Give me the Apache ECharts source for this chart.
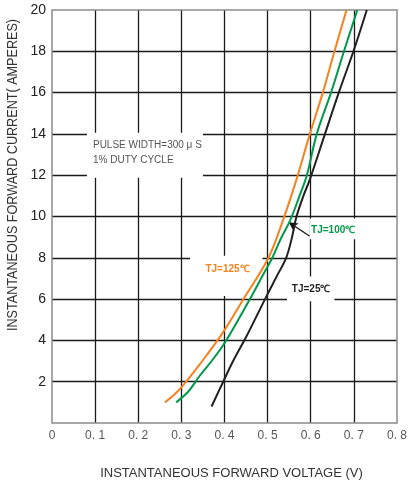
<!DOCTYPE html>
<html><head><meta charset="utf-8">
<script src="https://cdn.jsdelivr.net/npm/echarts@6/dist/echarts.min.js"></script>
<style>html,body{margin:0;padding:0;background:#fff}#c{width:409px;height:481px}</style>
</head><body><div id="c"></div>
<script>
// Forward voltage (V) / forward current (A) readings
const tj125V = [0.262,0.285,0.305,0.343,0.397,0.444,0.502,0.537,0.567,0.598,0.628,0.655,0.683];
const tj125I = [1.0,1.4,1.85,2.85,4.4,6.0,8.0,9.9,11.8,14.0,16.0,18.0,20.0];
const tj100V = [0.288,0.315,0.343,0.372,0.401,0.432,0.459,0.490,0.511,0.530,0.552,0.574,0.591,0.614,0.647,0.677,0.708];
const tj100I = [1.0,1.5,2.3,3.05,3.9,5.0,6.0,7.2,8.0,8.9,9.8,11.0,12.0,14.0,16.0,18.0,20.0];
const tj25V  = [0.370,0.397,0.420,0.451,0.475,0.494,0.521,0.543,0.556,0.567,0.583,0.598,0.633,0.665,0.699,0.730];
const tj25I  = [0.8,2.0,3.0,4.2,5.2,6.0,7.1,8.0,8.95,10.0,11.0,11.8,14.0,16.0,18.0,20.0];
const seriesNames = ['TJ=125℃','TJ=100℃','TJ=25℃'];
const xTicks = [0,0.1,0.2,0.3,0.4,0.5,0.6,0.7,0.8];
const yTicks = [2,4,6,8,10,12,14,16,18,20];
const noteLines = ['PULSE WIDTH=300 μ S','1% DUTY CYCLE'];
const xName = 'INSTANTANEOUS FORWARD VOLTAGE (V)';
const yName = 'INSTANTANEOUS FORWARD CURRENT( AMPERES)';

const zip = (a,b)=>a.map((v,i)=>[v,b[i]]);
const colors = ['#F5821F','#00994A','#231F20'];
const chart = echarts.init(document.getElementById('c'));
const opt = {
  animation:false,
  grid:{left:52,right:12,top:10,bottom:58,containLabel:false,outerBoundsMode:'none',show:true,borderColor:'#8a8a8a',borderWidth:1.5,z:3},
  xAxis:{type:'value',min:0,max:0.8,interval:0.1,
    name:xName,nameLocation:'middle',nameGap:44,
    nameTextStyle:{fontFamily:'Liberation Sans',fontSize:13,color:'#333',padding:[0,0,0,14]},
    axisLine:{show:false},axisTick:{show:false},
    axisLabel:{margin:7,fontFamily:'Liberation Sans',fontSize:12,color:'#555',
      formatter:v=>{const t=xTicks.find(k=>Math.abs(k-v)<1e-6);return t===0?'0':t.toFixed(1).replace('.','. ');}},
    splitLine:{show:true,showMinLine:false,showMaxLine:false,lineStyle:{color:'#1a1a1a',width:1.3}}},
  yAxis:{type:'value',min:0,max:20,interval:2,
    axisLine:{show:false},axisTick:{show:false},
    axisLabel:{margin:6,fontFamily:'Liberation Sans',fontSize:14,color:'#222',
      formatter:v=>yTicks.includes(v)?String(v):''},
    splitLine:{show:true,showMinLine:false,showMaxLine:false,lineStyle:{color:'#1a1a1a',width:1.3}}},
  series:[
    {name:seriesNames[0],type:'line',data:zip(tj125V,tj125I),smooth:0.35,showSymbol:false,lineStyle:{color:colors[0],width:2},z:5},
    {name:seriesNames[1],type:'line',data:zip(tj100V,tj100I),smooth:0.35,showSymbol:false,lineStyle:{color:colors[1],width:2},z:5,
      markLine:{silent:true,symbol:['none','arrow'],symbolSize:[7,9],label:{show:false},
        lineStyle:{color:'#111',width:1.2,type:'solid'},
        data:[[{coord:[0.597,9.05]},{coord:[0.549,9.72]}]]}},
    {name:seriesNames[2],type:'line',data:zip(tj25V,tj25I),smooth:0.35,showSymbol:false,lineStyle:{color:colors[2],width:2},z:5}
  ]
};
chart.setOption(opt);

// annotations positioned in data space
const P = (x,y)=>chart.convertToPixel({gridIndex:0},[x,y]);
const g = [];
function box(x0,y0,x1,y1){const a=P(x0,y0),b=P(x1,y1);
  g.push({type:'rect',z:1,shape:{x:a[0],y:a[1],width:b[0]-a[0],height:b[1]-a[1]},style:{fill:'#fff'}});}
box(0.081,14.05,0.350,11.88);
const n1=P(0.095,13.44), n2=P(0.095,12.70);
g.push({type:'text',z:6,x:n1[0],y:n1[1],style:{text:noteLines[0],fontFamily:'Liberation Sans',fontSize:10,fill:'#555',verticalAlign:'middle'}});
g.push({type:'text',z:6,x:n2[0],y:n2[1],style:{text:noteLines[1],fontFamily:'Liberation Sans',fontSize:10,fill:'#555',verticalAlign:'middle'}});
box(0.320,8.1,0.488,6.15);
box(0.598,9.9,0.705,8.9);
box(0.545,7.1,0.655,5.9);
const lbl=[[0.407,7.45],[0.652,9.32],[0.601,6.49]];
lbl.forEach((p,i)=>{const q=P(p[0],p[1]);
  g.push({type:'text',z:6,x:q[0],y:q[1],style:{text:seriesNames[i],fontFamily:'Liberation Sans',fontWeight:'bold',fontSize:10,fill:colors[i],align:'center',verticalAlign:'middle'}});});
// y-axis title (narrow, tall lettering)
g.push({type:'text',z:6,x:13,y:175,rotation:Math.PI/2,scaleX:0.87,
  style:{text:yName,fontFamily:'Liberation Sans',fontSize:14.5,fill:'#333',align:'center',verticalAlign:'middle'}});
chart.setOption({graphic:g});
</script></body></html>
